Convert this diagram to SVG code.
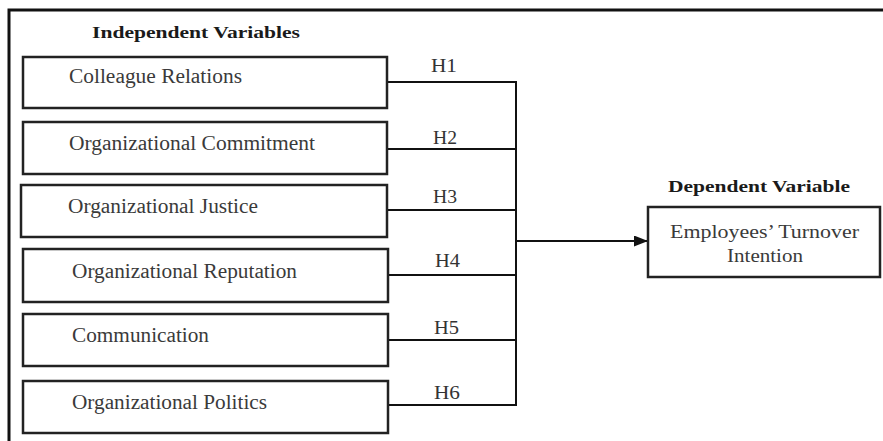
<svg xmlns="http://www.w3.org/2000/svg" width="883" height="441" viewBox="0 0 883 441">
<style>
.frame{fill:none;stroke:#111;stroke-width:3}
.box{fill:#fff;stroke:#222;stroke-width:2.5}
text{font-family:"Liberation Serif","DejaVu Serif",serif}
.lbl{font-size:20px;fill:#3a3a3a}
.h{font-size:19px;fill:#333}
.hd{font-size:17px;font-weight:bold;fill:#1a1a1a}
.ln{fill:none;stroke:#111;stroke-width:2}
</style>
<defs>
<marker id="arr" viewBox="0 0 14 11" refX="14" refY="5.5" markerWidth="14" markerHeight="11" markerUnits="userSpaceOnUse" orient="auto">
<path d="M0,0 L14,5.5 L0,11 Z" fill="#111"/>
</marker>
</defs>
<rect width="883" height="441" fill="#fff"/>
<path class="frame" d="M9,441 V10 H883"/>
<text class="hd" x="92" y="38" textLength="208" lengthAdjust="spacingAndGlyphs">Independent Variables</text>
<text class="hd" x="668" y="192" textLength="182" lengthAdjust="spacingAndGlyphs">Dependent Variable</text>
<g id="connectors">
<path class="ln" d="M387,82 H516 M387,149 H516 M387,210 H516 M388,275 H516 M388,340 H516 M388,405 H516 M516,81 V406"/>
<path class="ln" d="M516,241 H648" marker-end="url(#arr)"/>
<text class="h" x="431" y="72" textLength="26" lengthAdjust="spacingAndGlyphs">H1</text>
<text class="h" x="433" y="144" textLength="24" lengthAdjust="spacingAndGlyphs">H2</text>
<text class="h" x="433" y="203" textLength="24" lengthAdjust="spacingAndGlyphs">H3</text>
<text class="h" x="435" y="267" textLength="25" lengthAdjust="spacingAndGlyphs">H4</text>
<text class="h" x="434" y="334" textLength="25" lengthAdjust="spacingAndGlyphs">H5</text>
<text class="h" x="434" y="399" textLength="26" lengthAdjust="spacingAndGlyphs">H6</text>
</g>
<g id="n1"><rect class="box" x="23" y="57" width="364" height="51"/><text class="lbl" x="69" y="83" textLength="173" lengthAdjust="spacingAndGlyphs">Colleague Relations</text></g>
<g id="n2"><rect class="box" x="23" y="122" width="364" height="52"/><text class="lbl" x="69" y="150" textLength="246" lengthAdjust="spacingAndGlyphs">Organizational Commitment</text></g>
<g id="n3"><rect class="box" x="21" y="185" width="366" height="52"/><text class="lbl" x="68" y="213" textLength="190" lengthAdjust="spacingAndGlyphs">Organizational Justice</text></g>
<g id="n4"><rect class="box" x="23" y="249" width="365" height="53"/><text class="lbl" x="72" y="278" textLength="225" lengthAdjust="spacingAndGlyphs">Organizational Reputation</text></g>
<g id="n5"><rect class="box" x="23" y="314" width="365" height="52"/><text class="lbl" x="72" y="342" textLength="137" lengthAdjust="spacingAndGlyphs">Communication</text></g>
<g id="n6"><rect class="box" x="23" y="381" width="365" height="52"/><text class="lbl" x="72" y="409" textLength="195" lengthAdjust="spacingAndGlyphs">Organizational Politics</text></g>
<g id="n7"><rect class="box" x="648" y="207" width="232" height="70"/>
<text class="lbl" x="670" y="238" style="font-size:19px" textLength="189" lengthAdjust="spacingAndGlyphs">Employees’ Turnover</text>
<text class="lbl" x="727" y="262" style="font-size:19px" textLength="76" lengthAdjust="spacingAndGlyphs">Intention</text></g>
</svg>
